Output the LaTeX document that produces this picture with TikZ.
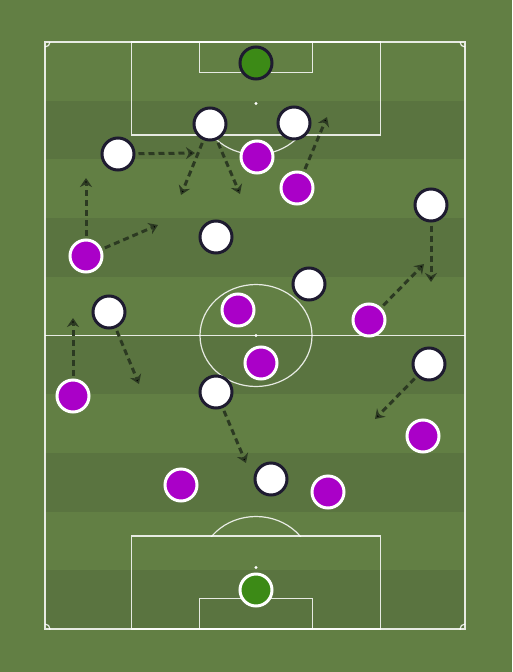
\documentclass[tikz,border=0pt]{standalone}
\usetikzlibrary{arrows.meta}

\definecolor{grass}{HTML}{627F44}
\definecolor{stripe}{HTML}{5A7440}
\definecolor{kitdark}{HTML}{1E1B30}
\definecolor{kitpurple}{HTML}{AA00C8}
\definecolor{keeper}{HTML}{3C8A16}
\definecolor{runc}{HTML}{2C3A22}

\tikzset{
  player/.style = {circle, minimum size=32pt, inner sep=0pt, line width=3pt},
  home/.style = {player, fill=white, draw=kitdark},
  away/.style = {player, fill=kitpurple, draw=white},
  homegk/.style = {player, fill=keeper, draw=kitdark},
  awaygk/.style = {player, fill=keeper, draw=white},
  run/.style = {draw=runc, line width=3pt, dash pattern=on 6pt off 4pt,
                -{Stealth[length=9pt,width=12pt,inset=3pt]}, shorten <=3pt},
  pitchline/.style = {draw=white, draw opacity=0.85, line width=1.2pt}
}

\begin{document}
\begin{tikzpicture}[x=1pt, y=-1pt]
  \useasboundingbox (0,0) rectangle (512,672);
  \fill[grass] (0,0) rectangle (512,672);
  \foreach \i in {1,3,5,7,9}
    \fill[stripe] (45,{42+58.7*\i}) rectangle (465,{42+58.7*(\i+1)});

  % pitch markings
  \draw[pitchline] (45,42) rectangle (465,629);
  \draw[pitchline] (45,335.5) -- (465,335.5);
  \draw[pitchline] (256,335.5) ellipse [x radius=56, y radius=51];
  \draw[pitchline] (131.5,42) rectangle (380.5,135);
  \draw[pitchline] (199.5,42) rectangle (312.5,72.5);
  \draw[pitchline] (131.5,536) rectangle (380.5,629);
  \draw[pitchline] (199.5,598.5) rectangle (312.5,629);
  \foreach \sy in {103.5,335.5,567.5}
    \fill[white] (256,\sy) circle [radius=1.6];
  \begin{scope}
    \clip (45,135) rectangle (465,200);
    \draw[pitchline] (256,103.5) ellipse [x radius=56, y radius=51];
  \end{scope}
  \begin{scope}
    \clip (45,470) rectangle (465,536);
    \draw[pitchline] (256,567.5) ellipse [x radius=56, y radius=51];
  \end{scope}
  \begin{scope}
    \clip (45,42) rectangle (465,629);
    \foreach \cx/\cy in {45/42, 465/42, 45/629, 465/629}
      \draw[pitchline] (\cx,\cy) circle [radius=5];
  \end{scope}

  % white side
  \node[homegk] (wg) at (256,63) {};
  \node[home] (w1) at (210,124) {};
  \node[home] (w2) at (294,123) {};
  \node[home] (w3) at (118,154) {};
  \node[home] (w4) at (216,237) {};
  \node[home] (w5) at (431,205) {};
  \node[home] (w6) at (309,284) {};
  \node[home] (w7) at (109,312) {};
  \node[home] (w8) at (429,364) {};
  \node[home] (w9) at (216,392) {};
  \node[home] (w10) at (271,479) {};

  % purple side
  \node[awaygk] (pg) at (256,590) {};
  \node[away] (p1) at (257,157) {};
  \node[away] (p2) at (297,188) {};
  \node[away] (p3) at (86,256) {};
  \node[away] (p4) at (238,310) {};
  \node[away] (p5) at (369,320) {};
  \node[away] (p6) at (261,363) {};
  \node[away] (p7) at (73,396) {};
  \node[away] (p8) at (423,436) {};
  \node[away] (p9) at (181,485) {};
  \node[away] (p10) at (328,492) {};

  % runs
  \coordinate (r1) at (195,153);
  \coordinate (r2) at (181,195);
  \coordinate (r3) at (240,194);
  \coordinate (r4) at (327,117);
  \coordinate (r5) at (86,178);
  \coordinate (r6) at (158,225);
  \coordinate (r7) at (431,282);
  \coordinate (r8) at (424,264);
  \coordinate (r9) at (139,384);
  \coordinate (r10) at (73,318);
  \coordinate (r11) at (375,419);
  \coordinate (r12) at (246,463);
  \path[run]
    (w3) edge (r1)
    (w1) edge (r2)
         edge (r3)
    (p2) edge (r4)
    (p3) edge (r5)
         edge (r6)
    (w5) edge (r7)
    (p5) edge (r8)
    (w7) edge (r9)
    (p7) edge (r10)
    (w8) edge (r11)
    (w9) edge (r12);
\end{tikzpicture}
\end{document}
